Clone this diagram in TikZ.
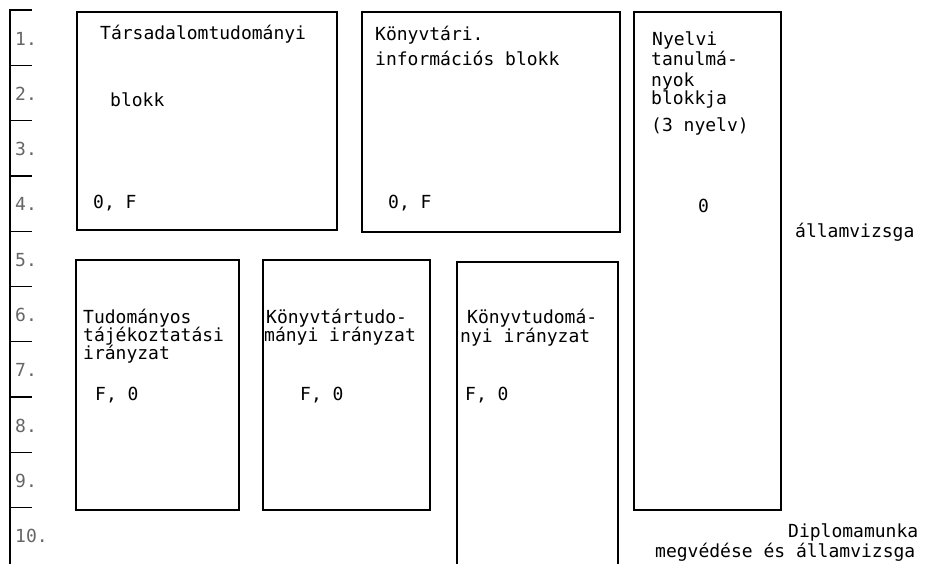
\documentclass[tikz,border=0pt]{standalone}
\usepackage{fontspec}
\setmonofont{DejaVu Sans Mono}
\usetikzlibrary{positioning}

\begin{document}
\begin{tikzpicture}[x=1pt, y=-1pt, every node/.style={font=\ttfamily\fontsize{18}{20}\selectfont, inner sep=0pt, anchor=base west, text=black}, blk/.style={line width=1.3pt}, lbl/.style={text=black!60}]
	\useasboundingbox (0,0) rectangle (932,563);
	% semester scale
	\draw[blk] (10,10) -- (10,565);
	\foreach \k in {0,...,9}
		\draw[blk] (9.4,{10+55.3*\k}) -- (32,{10+55.3*\k});
	\foreach \k in {1,...,10}
		\node[lbl] (sem\k) at (15,{-10.3+55.3*\k}) {\k.};
	% blocks
	\draw[blk] (77,12) rectangle (337,230);
	\draw[blk] (362,12) rectangle (620,232);
	\draw[blk] (634,12) rectangle (781,510);
	\draw[blk] (76,260) rectangle (239,510);
	\draw[blk] (263,260) rectangle (430,510);
	\draw[blk] (457,566) -- (457,262) -- (618,262) -- (618,566);
	% texts
	\node (tars1) at (100,39) {Társadalomtudományi};
	\node (tars2) at (110,106) {blokk};
	\node (tarsof) at (93,208) {0, F};
	\node (konyv1) at (375,40) {Könyvtári.};
	\node (konyv2) at (375,65) {információs blokk};
	\node (konyvof) at (388,208) {0, F};
	\node (nyelv1) at (652,45) {Nyelvi};
	\node (nyelv2) at (651,65) {tanulmá-};
	\node (nyelv3) at (651,86) {nyok};
	\node (nyelv4) at (651,104) {blokkja};
	\node (nyelv5) at (651,131) {(3 nyelv)};
	\node (nyelvo) at (698,212) {0};
	\node (allam) at (795,237) {államvizsga};
	\node (tud1) at (83,323) {Tudományos};
	\node (tud2) at (83,341) {tájékoztatási};
	\node (tud3) at (83,359) {irányzat};
	\node (tudfo) at (95,400) {F, 0};
	\node (ktt1) at (266,323) {Könyvtártudo-};
	\node (ktt2) at (264,341) {mányi irányzat};
	\node (kttfo) at (300,400) {F, 0};
	\node (kt1) at (467,323) {Könyvtudomá-};
	\node (kt2) at (460,342) {nyi irányzat};
	\node (ktfo) at (465,400) {F, 0};
	\node (diplo1) at (788,537) {Diplomamunka};
	\node (diplo2) at (655,557) {megvédése és államvizsga};
\end{tikzpicture}
\end{document}
